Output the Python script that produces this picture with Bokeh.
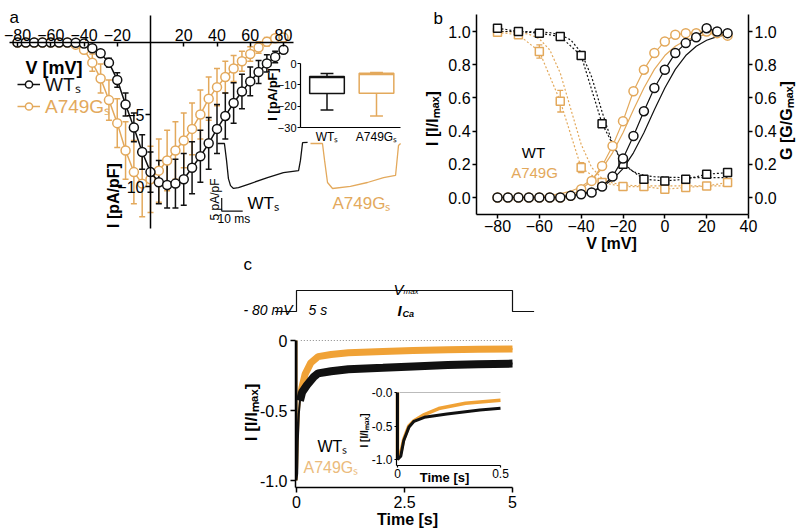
import math
from bokeh.plotting import figure
from bokeh.models import (Range1d, LinearAxis, FixedTicker, Label, Legend, LegendItem,
                          Whisker, TeeHead, ColumnDataSource, PrintfTickFormatter)
from bokeh.embed import file_html
from bokeh.resources import INLINE

# ---------------- panel a : current-voltage relation ----------------
a_voltage = list(range(-80, 85, 5))
a_wt_current = [0, 0, 0, 0, 0, 0, 0, -0.02, -0.07, -0.4, -0.75, -1.4, -2.6, -4.3, -5.9, -7.6, -9.0,
                -9.7, -9.9, -9.8, -9.5, -8.7, -7.9, -7.0, -6.0, -5.1, -4.2, -3.4, -2.7, -2.05, -1.45, -1.0, -0.5]
a_wt_sem = [0, 0, 0, 0, 0, 0, 0, 0, 0.05, 0.1, 0.2, 0.3, 0.5, 0.8, 1.0, 1.2, 1.4,
            1.5, 1.6, 1.7, 1.8, 1.8, 1.8, 1.8, 1.7, 1.6, 1.4, 1.2, 1.0, 0.8, 0.6, 0.4, 0.2]
a_mut_current = [0, 0, 0, 0, 0, 0, 0, -0.15, -0.5, -1.4, -2.5, -4.0, -5.6, -7.5, -9.0, -9.8, -9.5,
                 -8.9, -8.2, -7.5, -6.8, -6.0, -5.0, -3.9, -3.1, -2.4, -1.8, -1.3, -0.8, -0.35, 0.05, 0.3, 0.35]
a_mut_sem = [0, 0, 0, 0, 0, 0, 0, 0.05, 0.2, 0.6, 1.0, 1.4, 1.7, 2.0, 2.2, 2.3, 2.3,
             2.2, 2.1, 2.0, 1.9, 1.8, 1.7, 1.5, 1.3, 1.1, 0.9, 0.7, 0.5, 0.4, 0.3, 0.2, 0.1]

# example current traces (time in ms, current in pA/pF)
trace_wt_t = [0, 3.3, 4.3, 5.2, 6.2, 7.6, 10, 15.7, 23.8, 31.4, 38.6, 39.5, 40.5, 42.9]
trace_wt_i = [0, 0, -6.5, -13.5, -16.2, -17.3, -17.0, -15.4, -13.1, -11.2, -10.4, -6.5, 0.3, 0.4]
trace_mut_t = [0, 5.7, 6.7, 8.1, 10.5, 19, 27.1, 34.8, 40.5, 41.9, 42.9]
trace_mut_i = [0, 0, -6.5, -15, -17.3, -16.5, -15, -13.1, -12.3, -0.8, 0]
scale_bar_t = [2, 2, 12]        # 10 ms
scale_bar_i = [-21, -26, -26]   # 5 pA/pF

# box plot of peak current density
box_pos = [1, 2]
box_names = ["WTₛ", "A749Gₛ"]
box_max = [-4.7, -4.2]
box_q3 = [-6.1, -4.6]
box_median = [-6.6, -5.2]
box_q1 = [-14.1, -13.9]
box_min = [-21.8, -24.6]

# ---------------- panel b : activation / inactivation ----------------
b_act_v = list(range(-80, 35, 5))
b_wt_act = [0, 0, 0, 0, 0, 0, 0, 0.01, 0.02, 0.03, 0.066, 0.126, 0.235, 0.37, 0.52, 0.66, 0.77,
            0.87, 0.93, 0.965, 1.02, 1.0, 0.99]
b_mut_act = [0, 0, 0, 0, 0, 0, 0, 0.01, 0.05, 0.10, 0.19, 0.31, 0.46, 0.64, 0.77, 0.87, 0.94,
             0.98, 0.99, 0.99, 1.0, 0.99, 0.975]
b_wt_act_fit = [0.0003, 0.0005, 0.0008, 0.0014, 0.0025, 0.0043, 0.0075, 0.013, 0.022, 0.038, 0.065,
                0.108, 0.174, 0.269, 0.39, 0.528, 0.66, 0.772, 0.855, 0.911, 0.947, 0.969, 0.982]
b_mut_act_fit = [0.0008, 0.0014, 0.0025, 0.0043, 0.0075, 0.013, 0.022, 0.038, 0.065, 0.108, 0.174,
                 0.269, 0.39, 0.528, 0.66, 0.772, 0.855, 0.911, 0.947, 0.969, 0.982, 0.99, 0.994]
b_inact_v = list(range(-80, 40, 10))
b_wt_inact = [1.02, 1.0, 0.99, 0.97, 0.855, 0.445, 0.20, 0.11, 0.10, 0.11, 0.14, 0.15]
b_mut_inact = [0.995, 0.98, 0.88, 0.58, 0.18, 0.09, 0.066, 0.066, 0.05, 0.06, 0.07, 0.09]
b_mut_inact_sem = [0.01, 0.015, 0.04, 0.065, 0.03, 0.01, 0.01, 0.01, 0.01, 0.01, 0.01, 0.01]
b_wt_inact_fit = [1.0, 1.0, 0.9996, 0.999, 0.997, 0.993, 0.981, 0.949, 0.875, 0.727, 0.516, 0.324,
                  0.208, 0.155, 0.133, 0.125, 0.122, 0.121, 0.12, 0.12, 0.12, 0.12, 0.12]
b_mut_inact_fit = [0.999, 0.998, 0.994, 0.984, 0.956, 0.889, 0.75, 0.535, 0.32, 0.181, 0.114, 0.087,
                   0.076, 0.072, 0.071, 0.07, 0.07, 0.07, 0.07, 0.07, 0.07, 0.07, 0.07]

# ---------------- panel c : inactivation during 5 s pulse ----------------
c_wt_t = [0, 0, 0.016, 0.03, 0.055, 0.08, 0.13, 0.24, 0.4, 0.5, 0.8, 1.2, 2.0, 2.7, 3.5, 4.2, 5.0]
c_wt_i = [0, -1.0, -0.95, -0.72, -0.52, -0.43, -0.37, -0.32, -0.26, -0.235, -0.22, -0.205, -0.195,
          -0.185, -0.175, -0.17, -0.165]
c_mut_t = [0, 0, 0.016, 0.03, 0.055, 0.08, 0.13, 0.2, 0.33, 0.5, 0.8, 1.2, 2.0, 2.7, 3.5, 4.2, 5.0]
c_mut_i = [0, -1.0, -0.9, -0.7, -0.5, -0.42, -0.33, -0.24, -0.16, -0.115, -0.1, -0.088, -0.078,
           -0.072, -0.066, -0.063, -0.06]
c_zero_t = [0.1, 5.0]
c_zero_i = [0, 0]
inset_zero_t = [0.01, 0.5]
protocol_t = [-0.5, 0, 0, 5, 5, 5.5]
protocol_v = [-80, -80, 0, 0, -80, -80]

# ---------------- styling ----------------
FONT = "Liberation Sans"
BLACK = "#111111"
ORANGE = "#E3A95C"
ORANGE_C = "#F0A236"
ORANGE_TXT = "#EBBB7C"

W, H = 800, 529
XL, XR = 0, W
YB, YT = H, 0


def xmap(v1, p1, v2, p2):
    s = (p2 - p1) / (v2 - v1)
    return Range1d(v1 + (XL - p1) / s, v1 + (XR - p1) / s)


def ymap(v1, p1, v2, p2):
    s = (p2 - p1) / (v2 - v1)
    return Range1d(v1 + (YB - p1) / s, v1 + (YT - p1) / s)


p = figure(width=W, height=H, output_backend="svg", toolbar_location=None,
           x_range=Range1d(XL, XR), y_range=Range1d(YB, YT),
           x_axis_location=None, y_axis_location=None, min_border=0,
           background_fill_color="white", border_fill_color="white", outline_line_color=None)
p.xgrid.visible = False
p.ygrid.visible = False

p.extra_x_ranges = {
    "a_x": xmap(-80, 17, 80, 283),
    "wt_t": xmap(0, 217, 10, 238),
    "mut_t": xmap(0, 310, 10, 331),
    "box_x": xmap(1, 326.5, 2, 376),
    "b_x": xmap(-80, 497, 40, 748),
    "c_x": xmap(0, 296, 5, 512),
    "ci_x": xmap(0, 397, 0.5, 500),
}
p.extra_y_ranges = {
    "a_y": ymap(0, 42, -10, 186),
    "tr_y": ymap(0, 143, -10, 169),
    "box_y": ymap(0, 63, -30, 127),
    "b_y": ymap(0, 197, 1, 31),
    "c_y": ymap(0, 340, -1, 480),
    "prot_y": ymap(-80, 311, 0, 290),
    "ci_y": ymap(0, 392, -1, 459),
}


def R(xn, yn):
    return dict(x_range_name=xn, y_range_name=yn)


def add_axis(side, xn, yn, loc, bounds, ticks, size, tick_in=0, tick_out=4, standoff=2,
             overrides=None, fmt=None, lw=1.5):
    ax = LinearAxis(x_range_name=xn, y_range_name=yn, fixed_location=loc, bounds=bounds,
                    ticker=FixedTicker(ticks=ticks), axis_line_width=lw, axis_line_color="black",
                    major_tick_line_width=lw, major_tick_line_color="black",
                    major_tick_in=tick_in, major_tick_out=tick_out,
                    minor_tick_line_color=None, major_label_text_font=FONT,
                    major_label_text_font_size=f"{size}px", major_label_text_color="black",
                    major_label_standoff=standoff)
    if fmt is not None:
        ax.formatter = fmt
    if overrides:
        ax.major_label_overrides = overrides
    p.add_layout(ax, side)
    return ax


def label(x, y, text, size, color="black", style="normal", align="left", baseline="middle", angle=0.0):
    p.add_layout(Label(x=x, y=y, text=text, text_font=FONT, text_font_size=f"{size}px",
                       text_color=color, text_font_style=style, text_align=align,
                       text_baseline=baseline, angle=angle))


# ================= panel a =================
A = R("a_x", "a_y")
add_axis("above", "a_x", "a_y", 0, (-85, 86), [-80, -60, -40, -20, 20, 40, 60, 80], 16,
         tick_in=4, tick_out=0, standoff=2)
add_axis("left", "a_x", "a_y", 0, (-12.9, 1.9), [-5, -10], 16, tick_out=5, standoff=1)

renderers = {}
for name, cur, sem, col in (("mut", a_mut_current, a_mut_sem, ORANGE),
                            ("wt", a_wt_current, a_wt_sem, BLACK)):
    src = ColumnDataSource(dict(v=a_voltage, i=cur,
                                lo=[c - e for c, e in zip(cur, sem)],
                                hi=[c + e for c, e in zip(cur, sem)]))
    p.add_layout(Whisker(source=src, base="v", lower="lo", upper="hi", line_color=col, line_width=1.5,
                         upper_head=TeeHead(size=6, line_color=col, line_width=1.5),
                         lower_head=TeeHead(size=6, line_color=col, line_width=1.5),
                         level="underlay", **A))
    ln = p.line("v", "i", source=src, line_color=col, line_width=1.5, **A)
    pt = p.scatter("v", "i", source=src, marker="circle", size=9, fill_color="white",
                   line_color=col, line_width=1.5, **A)
    renderers[name] = (ln, pt)

for name, txt, col, vy in (("wt", "WTₛ", BLACK, 432), ("mut", "A749Gₛ", ORANGE, 410)):
    p.add_layout(Legend(items=[LegendItem(label=txt, renderers=list(renderers[name]))],
                        location=(17, vy), border_line_color=None, background_fill_alpha=0,
                        padding=0, margin=0, spacing=0, glyph_width=23, glyph_height=18,
                        label_standoff=5, label_height=18, label_text_font=FONT,
                        label_text_font_size="19px", label_text_color=col))

label(9, 17, "a", 17, baseline="alphabetic")
label(25, 67, "V [mV]", 18, style="bold", baseline="alphabetic")
label(113, 195, "I [pA/pF]", 16, style="bold", align="center", angle=math.pi / 2)

# example traces
p.line(trace_wt_t, trace_wt_i, line_color=BLACK, line_width=1.3, **R("wt_t", "tr_y"))
p.line(trace_mut_t, trace_mut_i, line_color=ORANGE, line_width=1.3, **R("mut_t", "tr_y"))
p.line(scale_bar_t, scale_bar_i, line_color=BLACK, line_width=1.2, **R("wt_t", "tr_y"))
label(214, 199, "5 pA/pF", 12, align="center", angle=math.pi / 2)
label(217, 218, "10 ms", 12)
label(247, 203, "WTₛ", 17)
label(332, 203, "A749Gₛ", 17, color=ORANGE)

# box plot inset
BX = R("box_x", "box_y")
add_axis("left", "box_x", "box_y", 0.465, (-30, 0), [0, -10, -20, -30], 11, tick_out=3, standoff=1, lw=1.2)
add_axis("below", "box_x", "box_y", -30, (0.465, 2.485), box_pos, 12, tick_out=0, standoff=2,
         overrides={k: v for k, v in zip(box_pos, box_names)}, lw=1.2)
for i, col in enumerate((BLACK, ORANGE)):
    x = box_pos[i]
    p.vbar(x=[x], top=[box_q3[i]], bottom=[box_q1[i]], width=0.7, fill_color="white",
           fill_alpha=0, line_color=col, line_width=1.5, **BX)
    p.segment(x0=[x - 0.35], x1=[x + 0.35], y0=[box_median[i]], y1=[box_median[i]],
              line_color=col, line_width=1.5, **BX)
    p.segment(x0=[x, x], x1=[x, x], y0=[box_q3[i], box_q1[i]], y1=[box_max[i], box_min[i]],
              line_color=col, line_width=1.5, **BX)
    p.segment(x0=[x - 0.13, x - 0.13], x1=[x + 0.13, x + 0.13], y0=[box_max[i], box_min[i]],
              y1=[box_max[i], box_min[i]], line_color=col, line_width=1.5, **BX)
label(272, 94, "I [pA/pF]", 13, style="bold", align="center", angle=math.pi / 2)

# ================= panel b =================
B = R("b_x", "b_y")
add_axis("left", "b_x", "b_y", -90, (-0.1, 1.1), [0, 0.2, 0.4, 0.6, 0.8, 1.0], 16,
         fmt=PrintfTickFormatter(format="%.1f"))
add_axis("right", "b_x", "b_y", 40, (-0.1, 1.1), [0, 0.2, 0.4, 0.6, 0.8, 1.0], 16,
         fmt=PrintfTickFormatter(format="%.1f"))
add_axis("below", "b_x", "b_y", -0.1, (-90, 40), [-80, -60, -40, -20, 0, 20, 40], 16)

# fits
p.line(b_act_v, b_mut_inact_fit, line_color=ORANGE, line_width=1.2, line_dash="2 2", **B)
p.line(b_act_v, b_wt_inact_fit, line_color=BLACK, line_width=1.2, line_dash="2 2", **B)
p.line(b_act_v, b_mut_act_fit, line_color=ORANGE, line_width=1.2, **B)
p.line(b_act_v, b_wt_act_fit, line_color=BLACK, line_width=1.2, **B)
# inactivation data
msrc = ColumnDataSource(dict(v=b_inact_v, i=b_mut_inact,
                             lo=[a - e for a, e in zip(b_mut_inact, b_mut_inact_sem)],
                             hi=[a + e for a, e in zip(b_mut_inact, b_mut_inact_sem)]))
p.add_layout(Whisker(source=msrc, base="v", lower="lo", upper="hi", line_color=ORANGE, line_width=1.3,
                     upper_head=TeeHead(size=6, line_color=ORANGE, line_width=1.3),
                     lower_head=TeeHead(size=6, line_color=ORANGE, line_width=1.3),
                     level="underlay", **B))
p.line("v", "i", source=msrc, line_color=ORANGE, line_width=1.2, line_dash="2 2", **B)
p.scatter("v", "i", source=msrc, marker="square", size=8, fill_color="white", line_color=ORANGE,
          line_width=1.5, **B)
p.line(b_inact_v, b_wt_inact, line_color=BLACK, line_width=1.2, line_dash="2 2", **B)
p.scatter(b_inact_v, b_wt_inact, marker="square", size=8, fill_color="white", line_color=BLACK,
          line_width=1.5, **B)
# activation data
p.line(b_act_v, b_mut_act, line_color=ORANGE, line_width=1.2, **B)
p.scatter(b_act_v, b_mut_act, marker="circle", size=9, fill_color="white", line_color=ORANGE,
          line_width=1.5, **B)
p.line(b_act_v, b_wt_act, line_color=BLACK, line_width=1.2, **B)
p.scatter(b_act_v, b_wt_act, marker="circle", size=9, fill_color="white", line_color=BLACK,
          line_width=1.5, **B)

label(433, 18, "b", 17, baseline="alphabetic")
label(432, 118, "I [I/Iₘₐₓ]", 16, style="bold", align="center", angle=math.pi / 2)
label(786, 120, "G [G/Gₘₐₓ]", 16, style="bold", align="center", angle=math.pi / 2)
label(611, 243, "V [mV]", 16, style="bold", align="center")
label(533, 152, "WT", 15, align="center")
label(534, 172, "A749G", 15, color=ORANGE, align="center")

# ================= panel c =================
C = R("c_x", "c_y")
add_axis("left", "c_x", "c_y", -0.023, (-1.05, 0), [0, -0.5, -1.0], 16, tick_out=5, standoff=3,
         fmt=PrintfTickFormatter(format="%.1f"), overrides={0: "0"})
add_axis("below", "c_x", "c_y", -1.05, (-0.023, 5.0), [0, 2.5, 5], 16, tick_out=5, standoff=3,
         fmt=PrintfTickFormatter(format="%.1f"), overrides={0: "0", 5: "5"})

p.line(c_zero_t, c_zero_i, line_color="#888888", line_width=1, line_dash="1 2", **C)
k_mut = next(j for j, t in enumerate(c_mut_t) if t >= 0.08)
k_wt = next(j for j, t in enumerate(c_wt_t) if t >= 0.08)
p.line(c_mut_t, c_mut_i, line_color=ORANGE_C, line_width=2, **C)
p.line(c_mut_t[k_mut:], c_mut_i[k_mut:], line_color=ORANGE_C, line_width=7, **C)
p.line(c_wt_t, c_wt_i, line_color=BLACK, line_width=2, **C)
p.line(c_wt_t[k_wt:], c_wt_i[k_wt:], line_color=BLACK, line_width=8, **C)

# protocol
p.line(protocol_t, protocol_v, line_color=BLACK, line_width=1.2, **R("c_x", "prot_y"))
label(243, 264, "c", 17, baseline="alphabetic")
label(292, 309, "- 80 mV", 14, style="italic", align="right", baseline="alphabetic")
label(308, 309, "5 s", 14, style="italic", baseline="alphabetic")
label(393, 289, "V", 15, style="italic", baseline="alphabetic")
label(403, 291, "max", 8, style="italic", baseline="alphabetic")
label(397, 310, "I", 15, style="bold italic", baseline="alphabetic")
label(402, 313, "Ca", 9, style="bold italic", baseline="alphabetic")

label(251, 412, "I [I/Iₘₐₓ]", 17, style="bold", align="center", angle=math.pi / 2)
label(407, 519, "Time [s]", 16, style="bold", align="center", baseline="alphabetic")
label(317, 446, "WTₛ", 16)
label(303, 467, "A749Gₛ", 16, color=ORANGE_TXT)

# inset of panel c
CI = R("ci_x", "ci_y")
add_axis("left", "ci_x", "ci_y", -0.005, (-1.09, 0), [0, -0.5, -1.0], 12, tick_out=2, standoff=2,
         fmt=PrintfTickFormatter(format="%.1f"), overrides={0: "-0.0"}, lw=1.2)
add_axis("below", "ci_x", "ci_y", -1.09, (-0.005, 0.5), [0, 0.5], 12, tick_out=2, standoff=1,
         fmt=PrintfTickFormatter(format="%.1f"), overrides={0: "0"}, lw=1.2)
p.line(inset_zero_t, [0, 0], line_color="#BBBBBB", line_width=1, **CI)
ins_mut = [(t, i) for t, i in zip(c_mut_t, c_mut_i) if t <= 0.5]
ins_wt = [(t, i) for t, i in zip(c_wt_t, c_wt_i) if t <= 0.5]
p.line([a for a, _ in ins_mut], [b for _, b in ins_mut], line_color=ORANGE_C, line_width=3.5, **CI)
p.line([a for a, _ in ins_wt], [b for _, b in ins_wt], line_color=BLACK, line_width=3, **CI)
label(364, 430, "I [I/Iₘₐₓ]", 10, style="bold", align="center", angle=math.pi / 2)
label(444, 477, "Time [s]", 13, style="bold", align="center")

open("out.html", "w", encoding="utf-8").write(file_html(p, INLINE))
